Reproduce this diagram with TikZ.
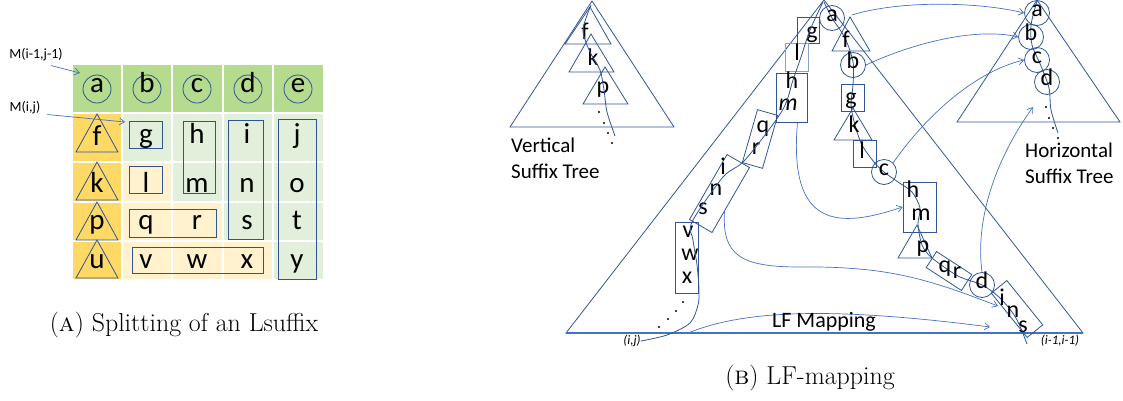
\documentclass[tikz,border=0pt]{standalone}
\usepackage{fontspec}
\newfontfamily\calfont{Carlito}
\usetikzlibrary{arrows.meta,calc}
\definecolor{lineblue}{RGB}{47,85,151}
\definecolor{arrowblue}{RGB}{68,114,196}
\definecolor{headgreen}{RGB}{181,219,143}
\definecolor{colorange}{RGB}{255,217,102}
\definecolor{cellgreen}{RGB}{226,239,218}
\definecolor{cellyellow}{RGB}{255,242,204}

\begin{document}
\begin{tikzpicture}[x=1pt,y=-1pt,
  ln/.style={draw=lineblue,line width=0.8pt},
  arr/.style={arrowblue,line width=0.7pt,-{Straight Barb[length=5pt,width=7pt]}},
  gl/.style={font=\calfont\fontsize{29}{31}\selectfont,inner sep=0pt,anchor=base},
  tl/.style={font=\calfont\fontsize{24}{27}\selectfont,inner sep=0pt,anchor=base},
  gcirc/.style={circle,ln,minimum size=28pt,inner sep=0pt,text height=0.7em,text depth=0pt,font=\calfont\fontsize{29}{31}\selectfont},
  tcirc/.style={circle,ln,minimum size=25pt,inner sep=0pt,text height=0.7em,text depth=0pt,font=\calfont\fontsize{24}{27}\selectfont},
  boxn/.style={rectangle,ln,inner sep=0pt},
  note/.style={font=\calfont\fontsize{14}{16}\selectfont,inner sep=0pt},
  tname/.style={font=\calfont\fontsize{21}{26}\selectfont,align=left,anchor=north west,inner sep=0pt},
  cornerlbl/.style={font=\calfont\itshape\fontsize{13}{15}\selectfont,inner sep=0pt},
  captext/.style={font=\fontsize{25.9}{30}\selectfont,inner sep=0pt}]
\useasboundingbox (0,0) rectangle (1123,400);

\fill[headgreen] (73,65) rectangle (323,113);
\fill[colorange] (73,113) rectangle (122,279);
\fill[cellgreen] (122,113) rectangle (323,279);
\fill[cellyellow] (122,162) rectangle (172,202) (122,202) rectangle (223,241) (122,241) rectangle (273,279);
\foreach \x in {122,172,223,273} \draw[white,line width=1.5pt] (\x,65) -- (\x,279);
\foreach \y in {113,162,202,241} \draw[white,line width=1.5pt] (73,\y) -- (323,\y);
\foreach \l/\x in {a/97,b/147,c/197,d/248,e/298} \node[gcirc] (g\l) at (\x,89) {\l};
\foreach \l/\y/\b in {f/114/145,k/162/192,p/202/229,u/240/268} {
  \draw[ln] (97,\y) -- (118,\y+38) -- (76,\y+38) -- cycle;
  \node[gl] (t\l) at (97,\b) {\l};
}
\foreach \l/\x/\y in {g/146/143,h/197/143,i/247/143,j/297/143,l/146/192,m/197/192,n/247/192,o/297/192,q/146/229,r/197/229,s/247/229,t/297/229,v/146/268,w/197/268,x/247/268,y/297/268}
  \node[gl] (c\l) at (\x,\y) {\l};
\node[boxn,minimum width=33pt,minimum height=27pt] (bg) at (145.5,134.5) {};
\node[boxn,minimum width=33pt,minimum height=27pt] (bl) at (145.5,179.5) {};
\node[boxn,minimum width=32pt,minimum height=72pt] (bhm) at (199,157) {};
\node[boxn,minimum width=35pt,minimum height=119pt] (bins) at (245.5,179.5) {};
\node[boxn,minimum width=38pt,minimum height=160pt] (bjoty) at (297,199) {};
\node[boxn,minimum width=87pt,minimum height=28pt] (bqr) at (172.5,223) {};
\node[boxn,minimum width=131pt,minimum height=26pt] (bvwx) at (197.5,260) {};
\node[note] (mprev) at (36,55) {M(i-1,j-1)};
\node[note] (mcur) at (25,108) {M(i,j)};
\coordinate (tipa) at (80,73);
\coordinate (tipg) at (125,122);
\draw[arr] ([shift={(-12,4)}]mprev.south east) -- (tipa);
\draw[arr] ([shift={(7,0)}]mcur.south east) -- (tipg);
\node[captext] (capa) at (184,325) {(\textsc{a}) Splitting of an Lsuffix};

\draw[ln] (592,1) -- (674,127) -- (510,127) -- cycle;
\draw[ln] (590,7) -- (611,44) -- (565,44) -- cycle;
\draw[ln] (591,34) -- (614,72) -- (569,72) -- cycle;
\draw[ln] (605,67) -- (628,104) -- (583,104) -- cycle;
\node[tl] (vf) at (585,39) {f};
\node[tl] (vk) at (593,65) {k};
\node[tl] (vp) at (603,93) {p};
\draw[ln] plot[smooth] coordinates {(591,5) (583,30) (590,52) (600,70) (604,90) (607,112) (615,136)};
\foreach \p in {(599,112),(604,123),(608,133),(612,143)} \fill \p circle (1.2);
\node[tname] (vname) at (511,138) {Vertical\\Suffix Tree};

\draw[ln] (1037,0) -- (1120,122) -- (957,122) -- cycle;
\draw[ln] plot[smooth] coordinates {(1037,1) (1031,25) (1032,45) (1041,66) (1049,88) (1051,110) (1058,133)};
\node[tcirc] (ha) at (1037,13) {a};
\node[tcirc] (hb) at (1031,37) {b};
\node[tcirc] (hc) at (1037,60) {c};
\node[tcirc] (hd) at (1047,82) {d};
\foreach \p in {(1046,107),(1049,118),(1053,128),(1058,138)} \fill \p circle (1.2);
\node[tname] (hname) at (1025,143) {Horizontal\\Suffix Tree};

\draw[ln] (824,0) -- (1083,333) -- (566,333) -- cycle;
\draw[arrowblue,line width=1.6pt] (566,333) -- (1083,333);

\node[boxn,minimum width=22pt,minimum height=26pt] (lg) at (808,30) {};
\node[boxn,draw=lineblue!55,minimum width=23pt,minimum height=28pt] (ll) at (796.5,57) {};
\node[boxn,minimum width=31pt,minimum height=49pt] (lhm) at (791.5,97.5) {};
\node[boxn,rotate=-16,minimum width=21pt,minimum height=55pt] (lqr) at (760,139) {};
\node[boxn,rotate=-30,minimum width=26pt,minimum height=75pt] (lins) at (719.5,193.5) {};
\node[boxn,minimum width=23pt,minimum height=71pt] (lvwx) at (686.5,257.5) {};
\foreach \l/\x/\y in {g/812/38,l/797/60,h/792/88,q/763/132,r/756/154,i/723/174,n/716/195,s/703/214,v/688/237,w/690/260,x/687/283}
  \node[tl] (l\l) at (\x,\y) {\l};
\node[tl,font=\calfont\itshape\fontsize{24}{27}\selectfont] (lm) at (788,110) {m};
\foreach \p in {(683,302),(676,311),(668,319),(659,327)} \fill \p circle (1.2);
\node[cornerlbl] (ij) at (632,341) {(i,j)};
\draw[ln] plot[smooth] coordinates {(ij.east) (667,335) (690,323) (698,305) (699,290) (697,265) (693,240) (692,222) (723,177) (745,160) (782,111) (793,80) (801,57) (810,30) (823,2)};

\draw[ln] plot[smooth] coordinates {(824,2) (832,18) (845,38) (853,62) (853,85) (851,105) (855,125) (862,145) (874,162) (884,172) (898,182) (912,192) (920,208) (918,224) (922,245) (932,258) (958,276) (982,285) (1000,298) (1016,318) (1027,344)};
\node[tcirc] (ra) at (832,18) {a};
\draw[ln] (850,17) -- (870,51) -- (832,51) -- cycle;
\node[tl] (rf) at (846,47) {f};
\node[tcirc] (rb) at (853,65) {b};
\node[boxn,minimum width=23pt,minimum height=27pt] (rg) at (852.5,97.5) {};
\node[tl] (rgl) at (851,104) {g};
\draw[ln] (853,108) -- (872,140) -- (834,140) -- cycle;
\node[tl] (rk) at (854,132) {k};
\node[boxn,minimum width=23pt,minimum height=27pt] (rl) at (864.5,153.5) {};
\node[tl] (rll) at (862,158) {l};
\node[tcirc] (rc) at (884,172) {c};
\node[boxn,minimum width=33pt,minimum height=50pt] (rhm) at (919.5,207) {};
\node[tl] (rh) at (913,197) {h};
\node[tl] (rm) at (921,220) {m};
\draw[ln] (917,225) -- (932,258) -- (898,258) -- cycle;
\node[tl] (rp) at (923,252) {p};
\node[boxn,rotate=-33,minimum width=42pt,minimum height=19pt] (rqr) at (949,271) {};
\node[tl] (rq) at (945,272) {q};
\node[tl] (rr) at (957,278) {r};
\node[tcirc] (rd) at (982,285) {d};
\node[boxn,rotate=-51,minimum width=57pt,minimum height=20pt] (rins) at (1017,309) {};
\node[tl] (ri) at (1002,305) {i};
\node[tl] (rn) at (1013,317) {n};
\node[tl] (rs) at (1023,332) {s};
\node[cornerlbl] (iijj) at (1060,341) {(i-1,i-1)};

\draw[arr] ([shift={(7,-3)}]ra.east) .. controls (900,0) and (980,2) .. (ha.west);
\draw[arr] (rb.east) .. controls (920,40) and (980,28) .. (hb.west);
\draw[arr] (rc.north east) .. controls (930,110) and (980,70) .. (hc.west);
\coordinate (htip) at (1033,107);
\draw[arr] (rd.north) .. controls (975,220) and (995,160) .. (htip);
\draw[arr] ([xshift=6pt]lhm.south) .. controls (788,230) and (840,228) .. (rhm.west);
\coordinate (tipins) at (998,306);
\draw[arr] ($(lins.east)!.35!(lins.south east)$) .. controls (722,255) and (740,267) .. (800,267) .. controls (890,266) and (930,280) .. (tipins);
\coordinate (lfstart) at (688,333);
\coordinate (lfend) at (990,327);
\draw[arr] (lfstart) .. controls (740,312) and (820,305) .. (lfend);
\node[font=\calfont\fontsize{22}{26}\selectfont,inner sep=0pt] (lfname) at (824,322) {LF Mapping};
\node[captext] (capb) at (810,378) {(\textsc{b}) LF-mapping};
\end{tikzpicture}
\end{document}
